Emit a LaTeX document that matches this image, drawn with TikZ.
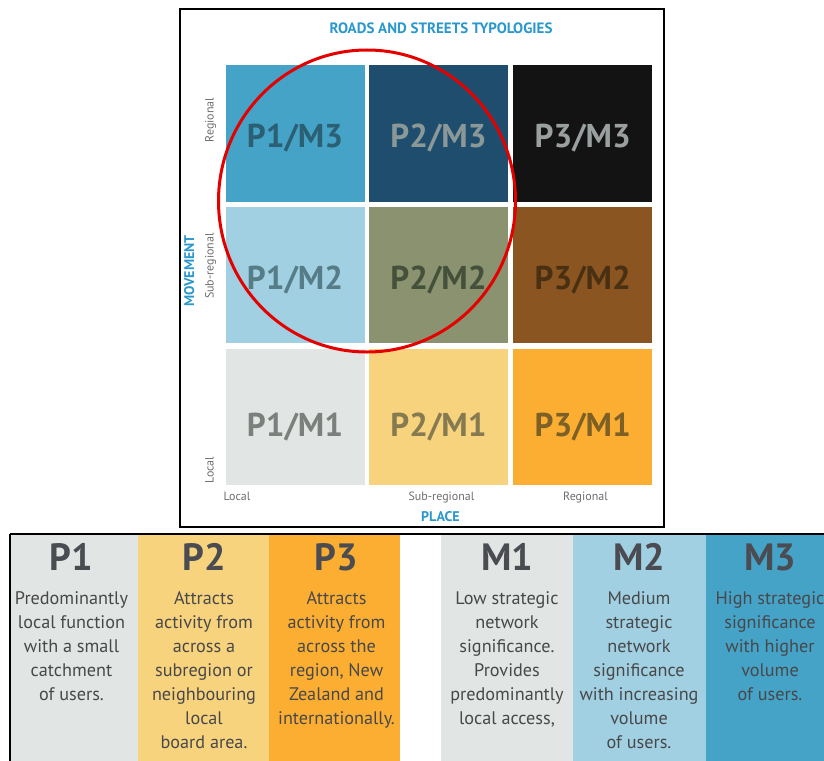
\documentclass[tikz,border=0pt]{standalone}
\usepackage{fontspec}
\setmainfont{PT Sans}
\usetikzlibrary{shapes.geometric}

% Palette
\definecolor{cBlueM}{HTML}{45A3C7}
\definecolor{cNavy}{HTML}{1E4D6D}
\definecolor{cBlack}{HTML}{131313}
\definecolor{cBlueL}{HTML}{A0D0E1}
\definecolor{cOlive}{HTML}{8A9270}
\definecolor{cBrown}{HTML}{8A5521}
\definecolor{cGrey}{HTML}{E1E5E3}
\definecolor{cYellow}{HTML}{F8D37E}
\definecolor{cOrange}{HTML}{FCAE32}
\definecolor{tBlueM}{HTML}{2B5F73}
\definecolor{tNavy}{HTML}{8A9898}
\definecolor{tBlack}{HTML}{9AA0A0}
\definecolor{tBlueL}{HTML}{557C87}
\definecolor{tOlive}{HTML}{45503A}
\definecolor{tBrown}{HTML}{4A3012}
\definecolor{tGrey}{HTML}{7B807C}
\definecolor{tYellow}{HTML}{867A50}
\definecolor{tOrange}{HTML}{7C6025}
\definecolor{titleblue}{HTML}{2A98CC}
\definecolor{axisgrey}{HTML}{6E6E6E}
\definecolor{bodygrey}{HTML}{48484A}
\definecolor{headgrey}{HTML}{4B4B52}
\definecolor{ringred}{HTML}{E50000}

\tikzset{
  cell/.style={draw=none, minimum width=139pt, minimum height=136.5pt, inner sep=0pt},
  celltext/.style={anchor=base, inner sep=0pt, font=\fontsize{33}{36}\selectfont\bfseries},
  axislabel/.style={anchor=base, inner sep=0pt, text=axisgrey, font=\fontsize{12}{14}\selectfont},
  axistitle/.style={anchor=base, inner sep=0pt, text=titleblue, font=\fontsize{14}{16}\selectfont\bfseries},
  band/.style={draw=none, minimum height=230pt, inner sep=0pt, anchor=north},
  bandhead/.style={anchor=base, inner sep=0pt, text=headgrey, font=\fontsize{38}{40}\selectfont\bfseries},
  bandbody/.style={anchor=north, inner sep=0pt, align=center, text=bodygrey, font=\fontsize{18.2}{24}\selectfont},
}

\begin{document}
\begin{tikzpicture}[x=1pt, y=-1pt]
\useasboundingbox (0,0) rectangle (824,760);
\fill[white] (0,0) rectangle (824,760);

% ---- Matrix of typologies ----
\node[cell, fill=cBlueM]  (p1m3) at (295,133.25)   {};
\node[cell, fill=cNavy]   (p2m3) at (438.5,133.25) {};
\node[cell, fill=cBlack]  (p3m3) at (582.75,133.25) {};
\node[cell, fill=cBlueL]  (p1m2) at (295,274.75)   {};
\node[cell, fill=cOlive]  (p2m2) at (438.5,274.75) {};
\node[cell, fill=cBrown]  (p3m2) at (582.75,274.75) {};
\node[cell, fill=cGrey]   (p1m1) at (295,416.75)   {};
\node[cell, fill=cYellow] (p2m1) at (438.5,416.75) {};
\node[cell, fill=cOrange] (p3m1) at (582.75,416.75) {};

\node[celltext, text=tBlueM]  (l13) at (295,147)    {P1/M3};
\node[celltext, text=tNavy]   (l23) at (438.5,147)  {P2/M3};
\node[celltext, text=tBlack]  (l33) at (582.75,147) {P3/M3};
\node[celltext, text=tBlueL]  (l12) at (295,289)    {P1/M2};
\node[celltext, text=tOlive]  (l22) at (438.5,289)  {P2/M2};
\node[celltext, text=tBrown]  (l32) at (582.75,289) {P3/M2};
\node[celltext, text=tGrey]   (l11) at (295,436)    {P1/M1};
\node[celltext, text=tYellow] (l21) at (438.5,436)  {P2/M1};
\node[celltext, text=tOrange] (l31) at (582.75,436) {P3/M1};

% ---- Title and axes ----
\node[anchor=base, inner sep=0pt, text=titleblue, font=\fontsize{15}{17}\selectfont\bfseries]
  (title) at (441,34) {ROADS AND STREETS TYPOLOGIES};

\node[axislabel, rotate=90] (mreg) at (213.5,120) {Regional};
\node[axislabel, rotate=90] (msub) at (213.5,266) {Sub-regional};
\node[axislabel, rotate=90] (mloc) at (213.5,470) {Local};
\node[axistitle, rotate=90] (movement) at (194,270.8) {MOVEMENT};

\node[axislabel] (ploc) at (237,500.7)   {Local};
\node[axislabel] (psub) at (441.5,500.7) {Sub-regional};
\node[axislabel] (preg) at (585.5,500.7) {Regional};
\node[axistitle] (place) at (440.5,521.7) {PLACE};

% frame of the matrix panel
\draw[line width=2pt, black] (180,9) rectangle (664,527);

% highlight ring
\node[draw=ringred, line width=3pt, ellipse, minimum width=297pt, minimum height=302pt, inner sep=0pt]
  (ring) at (367,201) {};

% ---- Legend bands ----
\node[band, fill=cGrey,   minimum width=127.7pt] (bP1) at (73.85,534) {};
\node[band, fill=cYellow, minimum width=131.6pt] (bP2) at (203.5,534) {};
\node[band, fill=cOrange, minimum width=130.7pt] (bP3) at (334.65,534) {};
\node[band, fill=cGrey,   minimum width=132.3pt] (bM1) at (507.15,534) {};
\node[band, fill=cBlueL,  minimum width=132.4pt] (bM2) at (639.5,534) {};
\node[band, fill=cBlueM,  minimum width=132.4pt] (bM3) at (771.9,534) {};

\node[bandhead] (hP1) at (71.5,570)  {P1};
\node[bandhead] (hP2) at (204,570)   {P2};
\node[bandhead] (hP3) at (336,570)   {P3};
\node[bandhead] (hM1) at (507,570)   {M1};
\node[bandhead] (hM2) at (639,570)   {M2};
\node[bandhead] (hM3) at (770,570)   {M3};

\node[bandbody] (tP1) at (71.5,587.5) {\strut Predominantly\\local function\\with a small\\catchment\\of users.};
\node[bandbody] (tP2) at (204,587.5)  {\strut Attracts\\activity from\\across a\\subregion or\\neighbouring\\local\\board area.};
\node[bandbody] (tP3) at (336.5,587.5) {\strut Attracts\\activity from\\across the\\region, New\\Zealand and\\internationally.};
\node[bandbody] (tM1) at (507,587.5)  {\strut Low strategic\\network\\significance.\\Provides\\predominantly\\local access,};
\node[bandbody] (tM2) at (639,587.5)  {\strut Medium\\strategic\\network\\significance\\with increasing\\volume\\of users.};
\node[bandbody] (tM3) at (770,587.5)  {\strut High strategic\\significance\\with higher\\volume\\of users.};

% frame of the legend panel (runs past the page edge)
\draw[line width=2.5pt, black] (10,534) -- (830,534);
\draw[line width=2.5pt, black] (10,534) -- (10,770);
\end{tikzpicture}
\end{document}
